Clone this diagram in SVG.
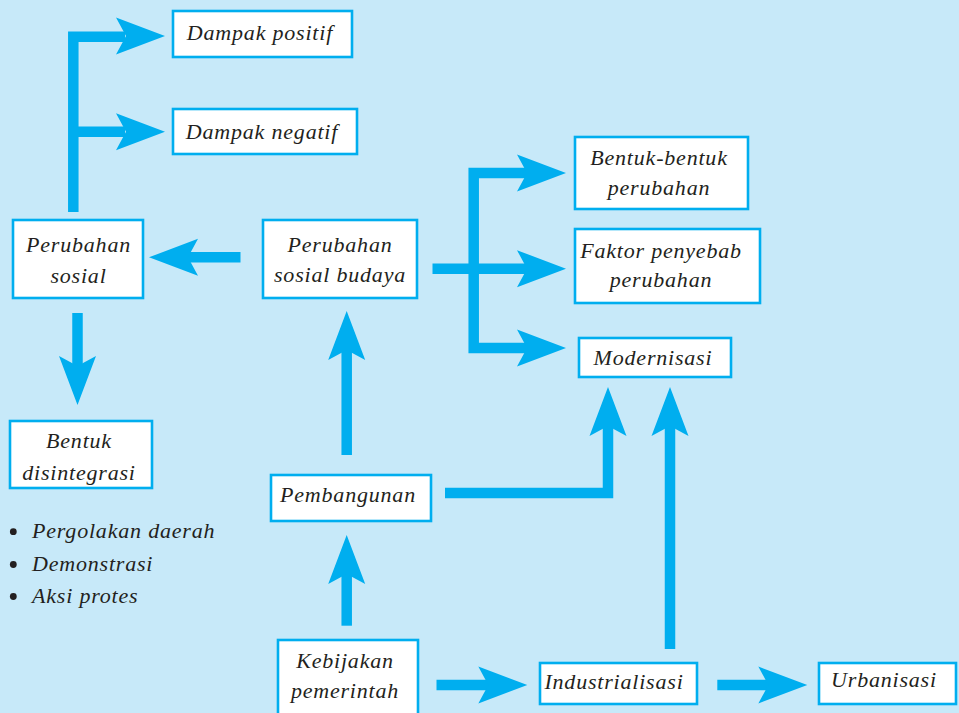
<svg xmlns="http://www.w3.org/2000/svg" xmlns:xlink="http://www.w3.org/1999/xlink" width="959" height="713" viewBox="0 0 959 713">
<style>
.box{fill:#ffffff;stroke:#00aeef;stroke-width:2.6}
.t{font-family:"Liberation Serif","Times New Roman",serif;font-style:italic;font-size:22px;letter-spacing:0.8px;fill:#231f20;text-anchor:middle}
.l{text-anchor:start}
.sh{fill:none;stroke:#00aeef;stroke-width:10.5;stroke-linecap:butt;stroke-linejoin:miter}
.hd{fill:#00aeef}
</style>
<defs>
<path id="ah" d="M0,0 L-49,-18.5 L-39,0 L-49,18.5 Z"/>
</defs>
<rect x="0" y="0" width="959" height="713" fill="#c7e9f9"/>

<g id="connectors">
<path class="sh" d="M73.3,212 V36.7 H125"/>
<path class="sh" d="M73.3,131.7 H125"/>
<use href="#ah" class="hd" transform="translate(165,36) rotate(0)"/>
<use href="#ah" class="hd" transform="translate(165,131.7) rotate(0)"/>

<path class="sh" d="M240.5,257.3 H188"/>
<use href="#ah" class="hd" transform="translate(149,257.3) rotate(180)"/>

<path class="sh" d="M77.5,313 V366"/>
<use href="#ah" class="hd" transform="translate(77.5,405) rotate(90)"/>

<path class="sh" d="M346.7,455 V350"/>
<use href="#ah" class="hd" transform="translate(346.7,311) rotate(-90)"/>

<path class="sh" d="M346.7,625.7 V574"/>
<use href="#ah" class="hd" transform="translate(346.7,535) rotate(-90)"/>

<path class="sh" d="M445,493 H608 V426"/>
<use href="#ah" class="hd" transform="translate(608,387) rotate(-90)"/>

<path class="sh" d="M670,649 V426"/>
<use href="#ah" class="hd" transform="translate(670,387) rotate(-90)"/>

<path class="sh" d="M436.5,685 H489"/>
<use href="#ah" class="hd" transform="translate(527.3,685) rotate(0)"/>

<path class="sh" d="M717.3,685 H769"/>
<use href="#ah" class="hd" transform="translate(807.3,685) rotate(0)"/>

<path class="sh" d="M432.5,268.7 H528"/>
<path class="sh" d="M528,173 H473.7 V348 H528"/>
<use href="#ah" class="hd" transform="translate(566,173) rotate(0)"/>
<use href="#ah" class="hd" transform="translate(566,268.7) rotate(0)"/>
<use href="#ah" class="hd" transform="translate(566,348) rotate(0)"/>
</g>

<g id="dampak-positif">
<rect class="box" x="173" y="11" width="179" height="46"/>
<text class="t" x="260" y="40">Dampak positif</text>
</g>
<g id="dampak-negatif">
<rect class="box" x="173" y="109" width="184" height="45"/>
<text class="t" x="262" y="138.5">Dampak negatif</text>
</g>
<g id="perubahan-sosial">
<rect class="box" x="13" y="220" width="130" height="78"/>
<text class="t" x="78.5" y="252">Perubahan</text>
<text class="t" x="78.5" y="283">sosial</text>
</g>
<g id="perubahan-sosial-budaya">
<rect class="box" x="263" y="220" width="154" height="78"/>
<text class="t" x="340" y="252">Perubahan</text>
<text class="t" x="340" y="282">sosial budaya</text>
</g>
<g id="bentuk-bentuk-perubahan">
<rect class="box" x="575" y="137" width="173" height="72"/>
<text class="t" x="659" y="165">Bentuk-bentuk</text>
<text class="t" x="659" y="195">perubahan</text>
</g>
<g id="faktor-penyebab">
<rect class="box" x="575" y="229" width="185" height="74"/>
<text class="t" x="661" y="258">Faktor penyebab</text>
<text class="t" x="661" y="287">perubahan</text>
</g>
<g id="modernisasi">
<rect class="box" x="579" y="338" width="152" height="39"/>
<text class="t" x="653" y="365">Modernisasi</text>
</g>
<g id="bentuk-disintegrasi">
<rect class="box" x="10" y="421" width="142" height="67"/>
<text class="t" x="79" y="448">Bentuk</text>
<text class="t" x="79" y="479.5">disintegrasi</text>
</g>
<g id="pembangunan">
<rect class="box" x="271" y="475" width="160" height="46"/>
<text class="t" x="348" y="502">Pembangunan</text>
</g>
<g id="kebijakan-pemerintah">
<rect class="box" x="278" y="640" width="140" height="80"/>
<text class="t" x="345" y="668">Kebijakan</text>
<text class="t" x="345" y="698">pemerintah</text>
</g>
<g id="industrialisasi">
<rect class="box" x="540" y="663" width="157" height="41"/>
<text class="t" x="614" y="689">Industrialisasi</text>
</g>
<g id="urbanisasi">
<rect class="box" x="819" y="663" width="137" height="41"/>
<text class="t" x="884" y="687">Urbanisasi</text>
</g>

<g id="bullet-list">
<circle cx="13.3" cy="531.7" r="3.4" fill="#231f20"/>
<circle cx="13.3" cy="564.5" r="3.4" fill="#231f20"/>
<circle cx="13.3" cy="596.5" r="3.4" fill="#231f20"/>
<text class="t l" x="32" y="538">Pergolakan daerah</text>
<text class="t l" x="32" y="571">Demonstrasi</text>
<text class="t l" x="32" y="603">Aksi protes</text>
</g>
</svg>
